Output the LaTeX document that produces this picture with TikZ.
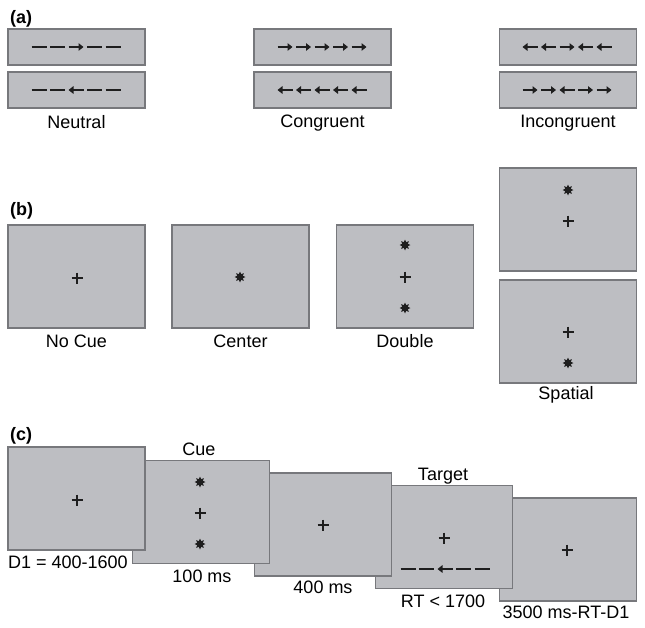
\documentclass[tikz,border=0pt]{standalone}
\usepackage{fontspec}
\setmainfont{Liberation Sans}
\usetikzlibrary{shapes.geometric,arrows.meta}
\definecolor{scrfill}{HTML}{BDBEC2}
\definecolor{scrline}{HTML}{77787C}
\definecolor{symcol}{HTML}{1E1E1E}
\tikzset{
  scr/.style={draw=scrline,fill=scrfill,line width=1.5pt,minimum width=137pt,inner sep=0pt},
  bigscr/.style={scr,minimum height=103pt},
  smallscr/.style={scr,minimum height=36pt},
  lbl/.style={anchor=base,font=\fontsize{18}{20}\selectfont,inner sep=0pt},
  panel/.style={anchor=base west,font=\fontsize{18}{20}\selectfont\bfseries,inner sep=0pt},
  astx/.style={star,star points=8,star point ratio=1.8,minimum size=11pt,fill=symcol,inner sep=0pt},
  flk/.style={line width=2.8pt,color=symcol},
  plusline/.style={line width=1.4pt,color=symcol}
}
\newcommand\plussign[2]{\draw[plusline] (#1-5.5,#2)--(#1+5.5,#2) (#1,#2-5.5)--(#1,#2+5.5);}
\newcommand\flankrow[3]{%
  \foreach \d [count=\i] in {#3} {%
    \pgfmathsetmacro\cx{#1+(\i-3)*18.5}%
    \ifnum\d=0
      \draw[flk] (\cx-7.5,#2)--(\cx+7.5,#2);
    \else
      \draw[flk,-{Triangle[length=5pt,width=7.5pt]}] (\cx-7.5*\d,#2)--(\cx+7.5*\d,#2);
    \fi
  }%
}
\begin{document}
\begin{tikzpicture}[x=1pt,y=-1pt]
\useasboundingbox (0,0) rectangle (645,627);
% ---------- (a)
\node[panel] (pa) at (10,23) {(a)};
\node[smallscr] (n1) at (76.5,47) {};
\node[smallscr] (n2) at (76.5,90) {};
\node[smallscr] (c1) at (322.5,47) {};
\node[smallscr] (c2) at (322.5,90) {};
\node[smallscr] (i1) at (568,47) {};
\node[smallscr] (i2) at (568,90) {};
\flankrow{76}{47}{0,0,1,0,0}
\flankrow{76}{90}{0,0,-1,0,0}
\flankrow{322}{47}{1,1,1,1,1}
\flankrow{322}{90}{-1,-1,-1,-1,-1}
\flankrow{567}{47}{-1,-1,1,-1,-1}
\flankrow{567}{90}{1,1,-1,1,1}
\node[lbl] (ln) at (76.5,128) {Neutral};
\node[lbl] (lc) at (322.5,127) {Congruent};
\node[lbl] (li) at (568,127) {Incongruent};
% ---------- (b)
\node[panel] (pb) at (10,215) {(b)};
\node[bigscr] (nc) at (76.5,276.5) {};
\node[bigscr] (ce) at (240.5,276.5) {};
\node[bigscr] (db) at (405,276.5) {};
\node[bigscr] (sp1) at (568,219.5) {};
\node[bigscr] (sp2) at (568,331.5) {};
\plussign{77}{278}
\node[astx] (a1) at (240,277) {};
\node[astx] (a2) at (405,245) {};
\plussign{405}{277}
\node[astx] (a3) at (405,308) {};
\node[astx] (a4) at (568,190) {};
\plussign{568}{221}
\plussign{568}{332}
\node[astx] (a5) at (568,363) {};
\node[lbl] (lnc) at (76.5,347) {No Cue};
\node[lbl] (lce) at (240.5,347) {Center};
\node[lbl] (ldb) at (405,347) {Double};
\node[lbl] (lsp) at (566,399) {Spatial};
% ---------- (c)
\node[panel] (pc) at (10,440) {(c)};
\node[bigscr] (s5) at (568,549.5) {};
\node[bigscr] (s4) at (444,537) {};
\node[bigscr] (s3) at (323,524.5) {};
\node[bigscr] (s2) at (201,512) {};
\node[bigscr] (s1) at (76.5,498.5) {};
\plussign{77}{500}
\node[astx] (a6) at (200,482) {};
\plussign{200}{513}
\node[astx] (a7) at (200,544) {};
\plussign{323}{525}
\plussign{444}{538}
\flankrow{445}{569}{0,0,-1,0,0}
\plussign{567}{550}
\node[lbl,anchor=base west] (ld1) at (8,568) {D1 = 400-1600};
\node[lbl] (lcue) at (199,455) {Cue};
\node[lbl] (l100) at (202,582) {100 ms};
\node[lbl] (l400) at (323,593) {400 ms};
\node[lbl] (ltg) at (443,480) {Target};
\node[lbl] (lrt) at (443,607) {RT < 1700};
\node[lbl] (l35) at (566,618) {3500 ms-RT-D1};
\end{tikzpicture}
\end{document}
